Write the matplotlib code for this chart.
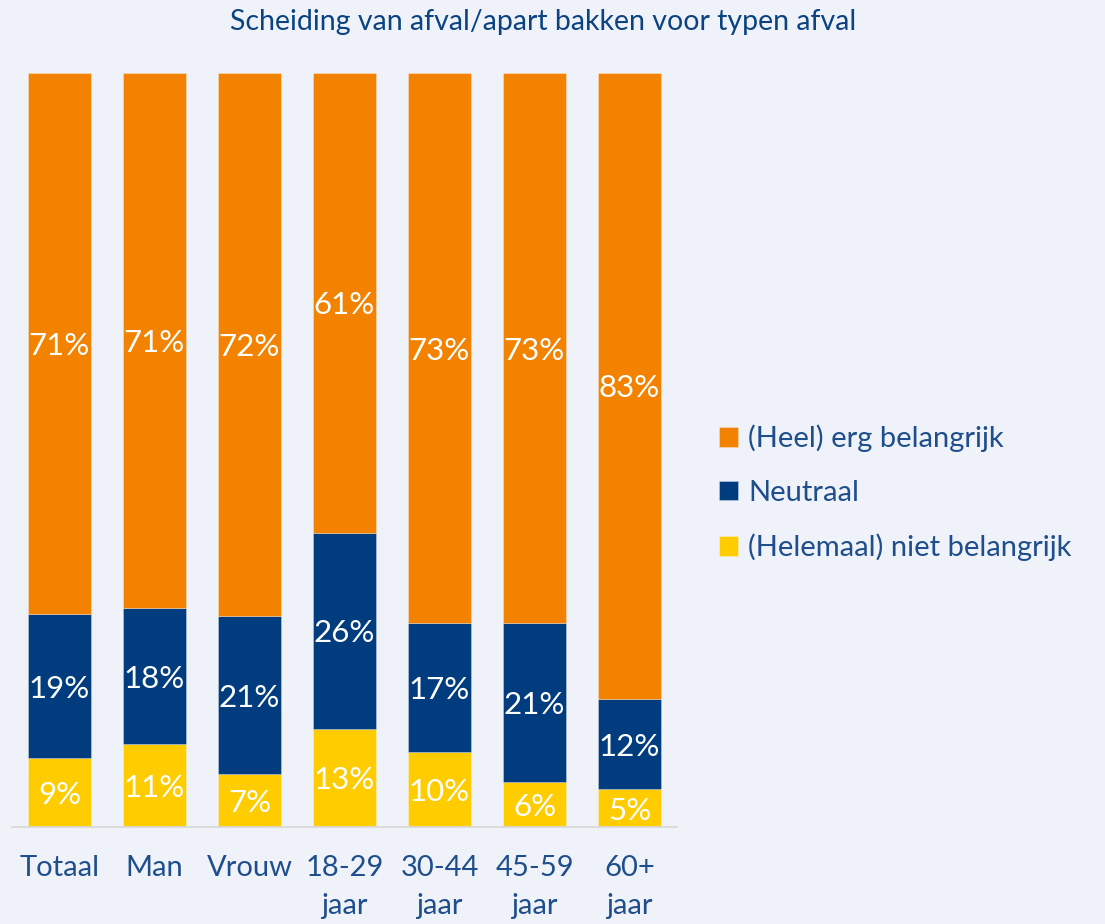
import matplotlib
matplotlib.use("Agg")
import matplotlib.pyplot as plt
import numpy as np

# -----------------------------
# DATA
# -----------------------------
categories = ["Totaal", "Man", "Vrouw", "18-29\njaar", "30-44\njaar", "45-59\njaar", "60+\njaar"]
niet_belangrijk = [9, 11, 7, 13, 10, 6, 5]
neutraal = [19, 18, 21, 26, 17, 21, 12]
belangrijk = [71, 71, 72, 61, 73, 73, 83]

series_names = ["(Helemaal) niet belangrijk", "Neutraal", "(Heel) erg belangrijk"]
series_colors = ["#FFCC00", "#003C7E", "#F28200"]

title = "Scheiding van afval/apart bakken voor typen afval"

# -----------------------------
# STYLE
# -----------------------------
bg = "#EFF3F9"
text_col = "#1F4E8C"
plt.rcParams["font.family"] = ["Lato", "DejaVu Sans"]

fig = plt.figure(figsize=(11.05, 9.24), dpi=100, facecolor=bg)
ax = fig.add_axes([12 / 1105, 1 - 827 / 924, 665 / 1105, 754 / 924])
ax.set_facecolor(bg)

# 100% stacked: normalise each column
raw = np.array([niet_belangrijk, neutraal, belangrijk], dtype=float)
shares = raw / raw.sum(axis=0) * 100

x = np.arange(len(categories))
bottom = np.zeros(len(categories))
handles = []
for i in range(len(series_names)):
    bars = ax.bar(x, shares[i], 0.67, bottom=bottom, color=series_colors[i],
                  edgecolor=(1, 1, 1, 0.35), linewidth=0.6, label=series_names[i])
    handles.append(bars)
    for xi, b, h, v in zip(x, bottom, shares[i], raw[i]):
        ax.text(xi, b + h / 2, f"{int(v)}%", ha="center", va="center_baseline",
                color="white", fontsize=22.5)
    bottom = bottom + shares[i]

ax.set_xlim(-0.5, len(categories) - 0.5)
ax.set_ylim(0, 100)
ax.set_yticks([])
ax.set_xticks(x)
ax.set_xticklabels(categories, fontsize=21, color=text_col, linespacing=1.6)
ax.tick_params(axis="x", length=0, pad=20)
for side in ["top", "left", "right"]:
    ax.spines[side].set_visible(False)
ax.spines["bottom"].set_color("#D9D9D9")
ax.spines["bottom"].set_linewidth(1.3)

fig.text(543 / 1105, 1 - 22 / 924, title, ha="center", va="center",
         fontsize=20.5, color="#0B4382")

leg = fig.legend(handles[::-1], series_names[::-1], loc="center left",
                 bbox_to_anchor=(719 / 1105, 1 - 493 / 924), frameon=False,
                 fontsize=21, handlelength=0.65, handleheight=0.65,
                 handletextpad=0.35, labelspacing=0.95, borderpad=0, borderaxespad=0)
for t in leg.get_texts():
    t.set_color(text_col)

fig.savefig("out.png", dpi=100, facecolor=bg)
